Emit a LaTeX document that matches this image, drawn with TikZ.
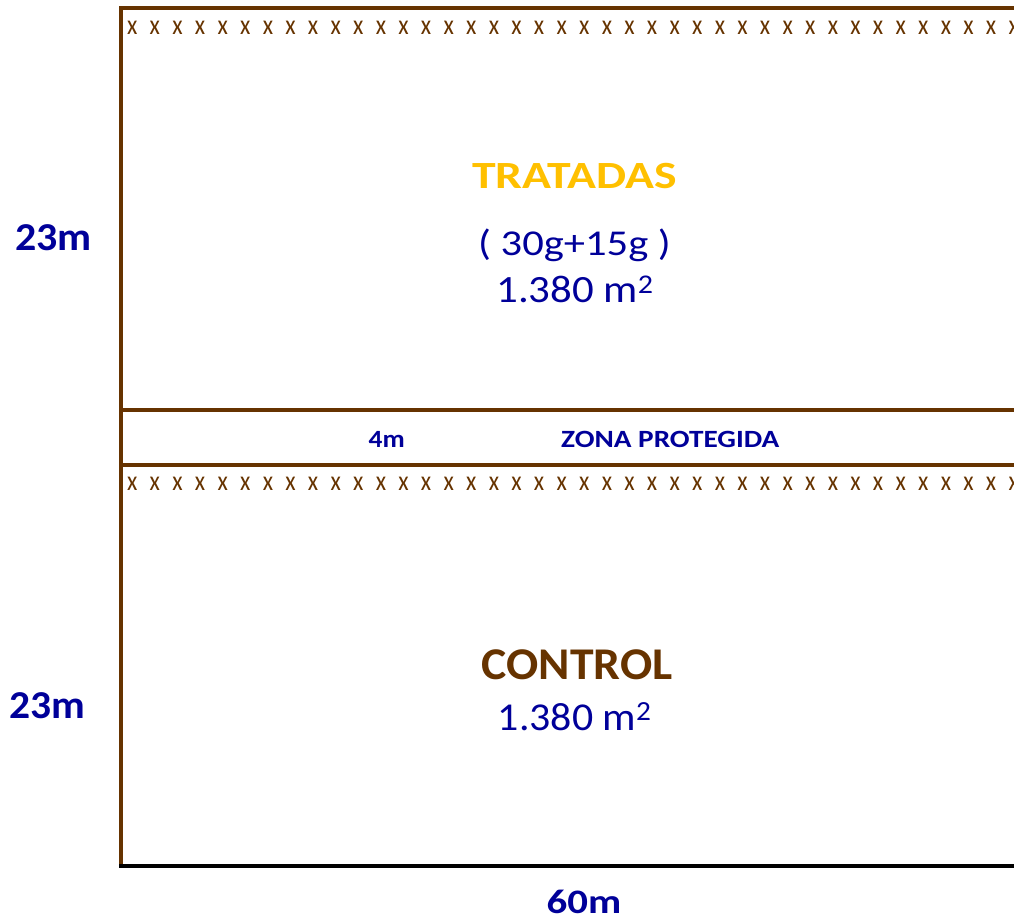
\documentclass[tikz,border=0pt]{standalone}
\usepackage{fontspec}
\setmainfont{Carlito}
\definecolor{marron}{RGB}{102,51,0}
\definecolor{azul}{RGB}{0,0,153}
\definecolor{oro}{RGB}{255,192,0}
\newcommand{\estira}[2]{\scalebox{#1}[1]{#2}}
\newcommand{\tam}[1]{\fontsize{#1}{#1}\selectfont}
\tikzset{
  borde/.style={draw=marron, line width=3.5pt},
  cota/.style={inner sep=0pt, anchor=base, font=\bfseries, text=azul},
  rotulo/.style={inner sep=0pt, anchor=base, text=azul},
  xmark/.style={inner sep=0pt, anchor=base, font=\tam{28}, text=marron}
}
\begin{document}
\begin{tikzpicture}[x=1pt,y=1pt,yscale=-1]
        \useasboundingbox (0,0) rectangle (1014,921);

        % Corners
        \coordinate (nw) at (121,8);
        \coordinate (ne) at (1016,8);
        \coordinate (mw1) at (121,410);
        \coordinate (me1) at (1016,410);
        \coordinate (mw2) at (121,465);
        \coordinate (me2) at (1016,465);
        \coordinate (sw) at (121,866);
        \coordinate (se) at (1016,866);

        %Straight Lines
        \draw [borde] (ne) -- (nw) -- (sw) ;
        \draw [borde] (mw1) -- (me1) ;
        \draw [borde] (mw2) -- (me2) ;
        \draw [line width=4.5pt, black] ([xshift=-1.75pt]sw) -- (se) ;

        % Rows of crosses
        \foreach \i in {0,...,39} {
          \node [xmark] (xa\i) at ({132.3+22.6*\i},34) {\estira{0.85}{x}};
          \node [xmark] (xb\i) at ({132.3+22.6*\i},490.7) {\estira{0.85}{x}};
        }

        % Text Node
        \node [inner sep=0pt, anchor=base, font=\bfseries\tam{38.5}, text=oro] (tratadas) at (574.7,188) {\estira{1.24}{TRATADAS}};
        % Text Node
        \node [rotulo, font=\tam{36.4}] (dosis) at (574.5,255) {\estira{1.17}{( 30g+15g )}};
        % Text Node
        \node [rotulo, font=\tam{38.6}] (areaa) at (575,302.7) {\estira{1.11}{1.380 m\textsuperscript{2}}};
        % Text Node
        \node [inner sep=0pt, anchor=base, font=\bfseries\tam{45.4}, text=marron] (control) at (577,679.3) {\estira{1.05}{CONTROL}};
        % Text Node
        \node [rotulo, font=\tam{39.5}] (areab) at (574.7,730) {\estira{1.06}{1.380 m\textsuperscript{2}}};
        % Text Node
        \node [cota, font=\bfseries\tam{39.5}] (alta) at (53.7,250) {\estira{1.06}{23m}};
        % Text Node
        \node [cota, font=\bfseries\tam{39.5}] (altb) at (47.5,718.3) {\estira{1.05}{23m}};
        % Text Node
        \node [cota, font=\bfseries\tam{34.3}] (ancho) at (584,913.3) {\estira{1.19}{60m}};
        % Text Node
        \node [cota, font=\bfseries\tam{24.8}] (zona) at (386.7,447.3) {\estira{1.1}{4m}};
        % Text Node
        \node [cota, font=\bfseries\tam{24.8}] (prot) at (670.3,447.3) {\estira{1.18}{ZONA PROTEGIDA}};

\end{tikzpicture}
\end{document}
